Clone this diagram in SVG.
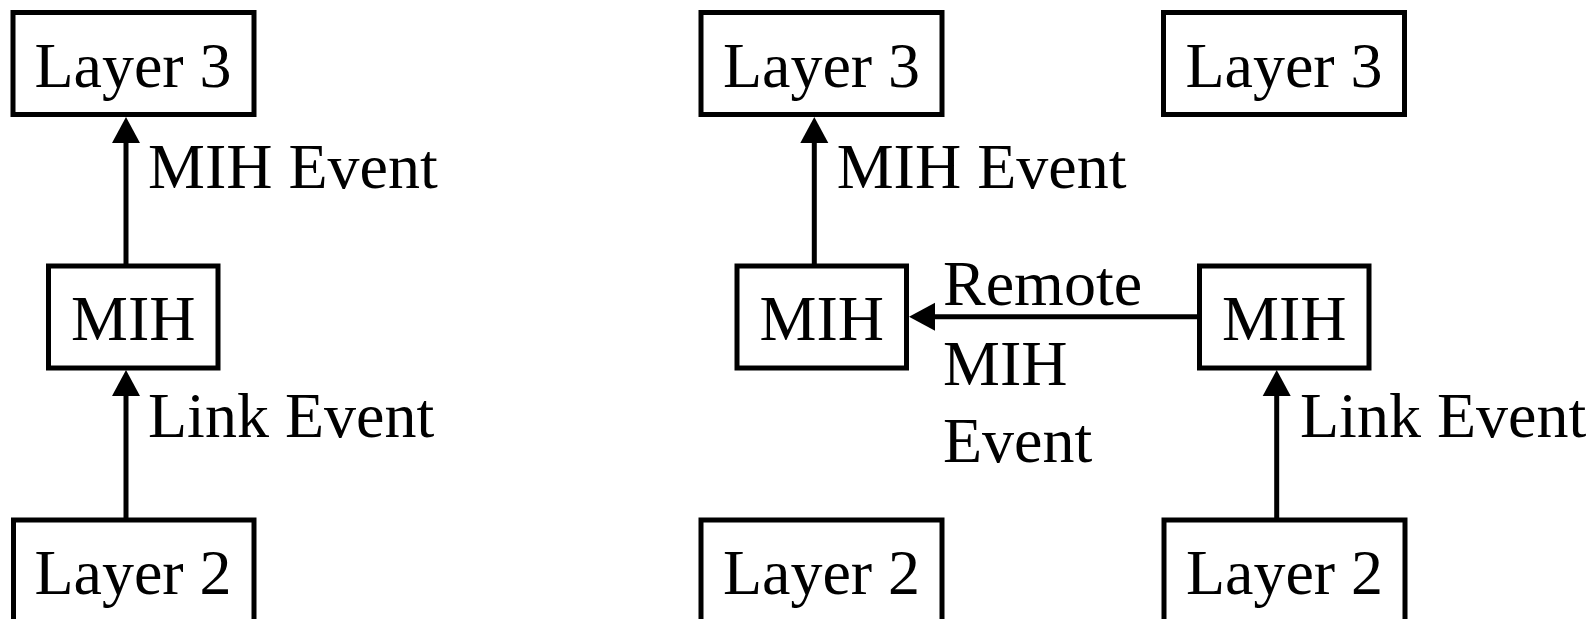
<svg xmlns="http://www.w3.org/2000/svg" width="1591" height="619" viewBox="0 0 1591 619">
<defs>
<style>
.box{fill:#fff;stroke:#000;stroke-width:5}
.t{font-family:"Liberation Serif","Times New Roman",serif;font-size:64px;fill:#000}
.c{text-anchor:middle}
.edge{stroke:#000;stroke-width:5;fill:none;marker-end:url(#ah)}
</style>
<marker id="ah" markerUnits="userSpaceOnUse" markerWidth="28" markerHeight="30" refX="0" refY="14" orient="auto" viewBox="0 0 28 28">
<path d="M0,0 L26,14 L0,28 Z" fill="#000"/>
</marker>
</defs>
<g id="connectors">
<line class="edge" x1="126" y1="266" x2="126" y2="143"/>
<line class="edge" x1="126" y1="520" x2="126" y2="396"/>
<line class="edge" x1="814.3" y1="266" x2="814.3" y2="143"/>
<line class="edge" x1="1199.5" y1="316.7" x2="935" y2="316.7"/>
<line class="edge" x1="1276.7" y1="520" x2="1276.7" y2="396"/>
<text class="t" x="148" y="188">MIH Event</text>
<text class="t" x="148" y="437">Link Event</text>
<text class="t" x="836.7" y="188">MIH Event</text>
<text class="t" x="943" y="305">Remote</text>
<text class="t" x="943" y="385">MIH</text>
<text class="t" x="943" y="461.5">Event</text>
<text class="t" x="1300" y="437">Link Event</text>
</g>
<g id="left-layer3"><rect class="box" x="13" y="12.5" width="241" height="102"/><text class="t c" x="133" y="87">Layer 3</text></g>
<g id="left-mih"><rect class="box" x="48.5" y="266" width="169.5" height="102"/><text class="t c" x="133.3" y="340">MIH</text></g>
<g id="left-layer2"><rect class="box" x="13.5" y="520" width="240.5" height="102"/><text class="t c" x="133" y="594">Layer 2</text></g>
<g id="mid-layer3"><rect class="box" x="701" y="12.5" width="241" height="102"/><text class="t c" x="821.5" y="87">Layer 3</text></g>
<g id="mid-mih"><rect class="box" x="737" y="266" width="169.5" height="102"/><text class="t c" x="821.7" y="340">MIH</text></g>
<g id="mid-layer2"><rect class="box" x="701" y="520" width="241" height="102"/><text class="t c" x="821.5" y="594">Layer 2</text></g>
<g id="right-layer3"><rect class="box" x="1163.5" y="12.5" width="241" height="102"/><text class="t c" x="1284" y="87">Layer 3</text></g>
<g id="right-mih"><rect class="box" x="1199.5" y="266" width="169.5" height="102"/><text class="t c" x="1284.2" y="340">MIH</text></g>
<g id="right-layer2"><rect class="box" x="1164" y="520" width="241" height="102"/><text class="t c" x="1284.5" y="594">Layer 2</text></g>
</svg>
